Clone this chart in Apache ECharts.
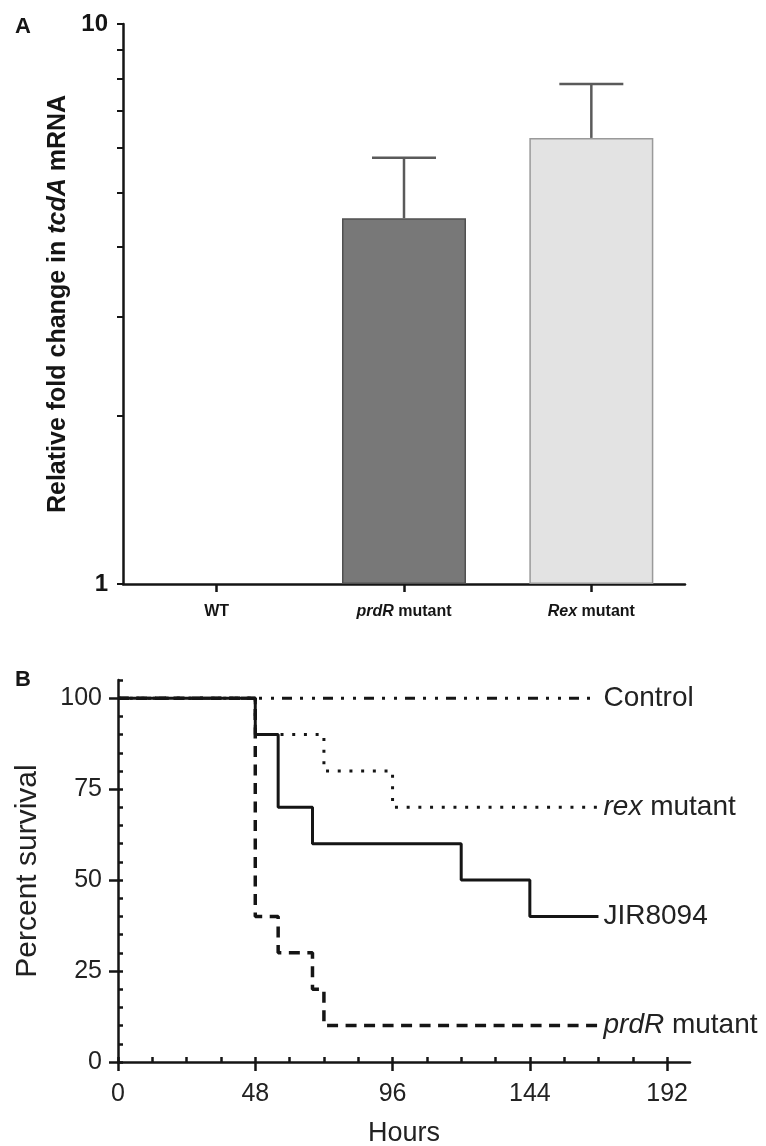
<!DOCTYPE html>
<html>
<head>
<meta charset="utf-8">
<script src="https://cdn.jsdelivr.net/npm/echarts@6/dist/echarts.min.js"></script>
<style>
  html, body { margin: 0; padding: 0; background: #fff; }
  #main { width: 766px; height: 1146px; }
</style>
</head>
<body>
<div id="main"></div>
<script>
  // panel A - relative tcdA mRNA (log axis)
  var strains = ['WT', 'prdR mutant', 'Rex mutant']
  var foldChange = [1, 4.5, 6.26]
  var foldErrTop = [1, 5.77, 7.81]
  var barColors = ['#ffffff', '#787878', '#e3e3e3']
  var barBorders = ['#ffffff', '#505050', '#9a9a9a']
  var logTicks = [1, 2, 3, 4, 5, 6, 7, 8, 9, 10]
  var logLabels = [1, 10]

  // panel B - survival curves (hours, percent)
  var controlSurv = [[0, 100], [168, 100]]
  var rexSurv = [[0, 100], [48, 90], [72, 80], [96, 70], [168, 70]]
  var jirSurv = [[0, 100], [48, 90], [56, 70], [68, 60], [120, 50], [144, 40], [168, 40]]
  var prdrSurv = [[0, 100], [48, 40], [56, 30], [68, 20], [72, 10], [168, 10]]
  var hourTicks = [0, 48, 96, 144, 192]
  var hourMinor = [0, 12, 24, 36, 48, 60, 72, 84, 96, 108, 120, 132, 144, 156, 168, 180, 192]
  var pctTicks = [0, 25, 50, 75, 100]
  var pctMinor = [0, 5, 10, 15, 20, 25, 30, 35, 40, 45, 50, 55, 60, 65, 70, 75, 80, 85, 90, 95, 100, 105]

  var FONT = '"Liberation Sans", Arial, sans-serif'
  var INK = '#151515'

  var chart = echarts.init(document.getElementById('main'))

  // error bar: vertical line from bar top to upper value plus a cap
  function renderErr (params, api) {
    var i = api.value(0)
    if (api.value(2) <= api.value(1)) return null
    var base = api.coord([i, api.value(1)])
    var top = api.coord([i, api.value(2)])
    var half = 32
    var st = {stroke: '#5a5a5a', lineWidth: 2.5}
    return {
      type: 'group',
      children: [
        {type: 'line', shape: {x1: base[0], y1: base[1], x2: top[0], y2: top[1]}, style: st},
        {type: 'line', shape: {x1: top[0] - half, y1: top[1], x2: top[0] + half, y2: top[1]}, style: st}
      ]
    }
  }

  var barData = []
  var errData = []
  for (var i = 0; i < strains.length; i++) {
    barData.push({
      value: foldChange[i],
      itemStyle: {color: barColors[i], borderColor: barBorders[i], borderWidth: i === 0 ? 0 : 1.5}
    })
    errData.push([i, foldChange[i], foldErrTop[i]])
  }

  function survSeries (name, data, dash, width, label, z) {
    return {
      name: name,
      type: 'line',
      xAxisIndex: 1,
      yAxisIndex: 1,
      step: 'end',
      symbol: 'none',
      silent: true,
      z: z,
      data: data,
      lineStyle: {color: INK, width: width, type: dash, cap: 'butt'},
      endLabel: {
        show: true,
        distance: 5,
        formatter: label,
        color: '#222',
        fontFamily: FONT,
        fontSize: 28,
        rich: {
          i: {fontStyle: 'italic', fontSize: 28, color: '#222', fontFamily: FONT}
        }
      }
    }
  }

  var option = {
    animation: false,
    backgroundColor: '#fff',
    graphic: [
      {type: 'text', left: 15, top: 16, style: {text: 'A', font: 'bold 22px ' + FONT, fill: INK}},
      {type: 'text', left: 15, top: 669, style: {text: 'B', font: 'bold 22px ' + FONT, fill: INK}}
    ],
    grid: [
      {left: 123, right: 81, top: 24, bottom: 562, outerBoundsMode: 'none'},
      {left: 118, right: 76, top: 680, bottom: 84, outerBoundsMode: 'none'}
    ],
    xAxis: [
      {
        type: 'category',
        gridIndex: 0,
        data: strains,
        axisLine: {show: true, lineStyle: {color: INK, width: 2.5}},
        axisTick: {show: true, alignWithLabel: true, length: 8, lineStyle: {color: INK, width: 2.5}},
        axisLabel: {
          margin: 20,
          color: INK,
          fontFamily: FONT,
          fontWeight: 'bold',
          fontSize: 16,
          formatter: function (v) {
            if (v === 'prdR mutant') return '{i|prdR} mutant'
            if (v === 'Rex mutant') return '{i|Rex} mutant'
            return v
          },
          rich: {
            i: {fontStyle: 'italic', fontWeight: 'bold', fontSize: 16, color: INK, fontFamily: FONT}
          }
        },
        splitLine: {show: false}
      },
      {
        type: 'value',
        gridIndex: 1,
        min: 0,
        max: 200,
        name: 'Hours',
        nameLocation: 'middle',
        nameGap: 58,
        nameTextStyle: {color: '#222', fontFamily: FONT, fontSize: 27},
        axisLine: {show: true, onZero: false, lineStyle: {color: INK, width: 2.5}},
        axisTick: {show: true, length: 9, customValues: hourTicks, lineStyle: {color: INK, width: 2.5}},
        axisLabel: {customValues: hourTicks, margin: 20, color: '#222', fontFamily: FONT, fontSize: 25},
        splitLine: {show: false}
      },
      {
        type: 'value',
        gridIndex: 1,
        min: 0,
        max: 200,
        axisLine: {show: false},
        axisTick: {show: true, length: 5, customValues: hourMinor, lineStyle: {color: INK, width: 2.5}},
        axisLabel: {show: false},
        splitLine: {show: false}
      }
    ],
    yAxis: [
      {
        type: 'log',
        gridIndex: 0,
        logBase: 10,
        min: 1,
        max: 10,
        name: 'Relative fold change in {i|tcdA} mRNA',
        nameLocation: 'middle',
        nameRotate: 90,
        nameGap: 51,
        nameTextStyle: {
          color: INK, fontFamily: FONT, fontSize: 25, fontWeight: 'bold',
          rich: {i: {fontStyle: 'italic', fontWeight: 'bold', fontSize: 25, color: INK, fontFamily: FONT}}
        },
        axisLine: {show: true, lineStyle: {color: INK, width: 2.5}},
        axisTick: {show: true, length: 6, customValues: logTicks, lineStyle: {color: INK, width: 2}},
        axisLabel: {customValues: logLabels, margin: 15, color: INK, fontFamily: FONT, fontWeight: 'bold', fontSize: 24},
        splitLine: {show: false}
      },
      {
        type: 'value',
        gridIndex: 1,
        min: 0,
        max: 105,
        name: 'Percent survival',
        nameLocation: 'middle',
        nameRotate: 90,
        nameGap: 75,
        nameTextStyle: {color: '#222', fontFamily: FONT, fontSize: 30},
        axisLine: {show: true, onZero: false, lineStyle: {color: INK, width: 2.5}},
        axisTick: {show: true, length: 9, customValues: pctTicks, lineStyle: {color: INK, width: 2.5}},
        axisLabel: {customValues: pctTicks, margin: 16, color: '#222', fontFamily: FONT, fontSize: 25},
        splitLine: {show: false}
      },
      {
        type: 'value',
        gridIndex: 1,
        min: 0,
        max: 105,
        axisLine: {show: false},
        axisTick: {show: true, length: 5, customValues: pctMinor, lineStyle: {color: INK, width: 2.5}},
        axisLabel: {show: false},
        splitLine: {show: false}
      }
    ],
    series: [
      {
        type: 'bar',
        xAxisIndex: 0,
        yAxisIndex: 0,
        barWidth: 124,
        silent: true,
        data: barData
      },
      {
        type: 'custom',
        xAxisIndex: 0,
        yAxisIndex: 0,
        silent: true,
        renderItem: renderErr,
        encode: {x: 0, y: [1, 2]},
        data: errData,
        z: 1
      },
      survSeries('prdR mutant', prdrSurv, [11, 7.5], 3.5, '{i|prdR} mutant', 2),
      survSeries('rex mutant', rexSurv, [3, 8.7], 3, '{i|rex} mutant', 3),
      survSeries('Control', controlSurv, [10, 8, 3, 9, 3, 8], 3, 'Control', 4),
      survSeries('JIR8094', jirSurv, 'solid', 3, 'JIR8094', 5)
    ]
  }

  chart.setOption(option)
</script>
</body>
</html>
